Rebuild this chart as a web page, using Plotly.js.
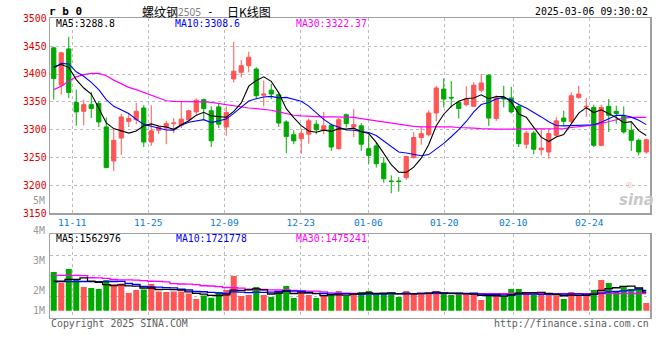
<!DOCTYPE html>
<html><head><meta charset="utf-8">
<script src="https://cdn.plot.ly/plotly-3.0.1.min.js"></script>
<style>html,body{margin:0;padding:0;background:#fff}#chart{width:660px;height:360px}</style>
</head><body><div id="chart"></div>
<script>
// ---------- data ----------
const dates = [
'2024-11-06','2024-11-07','2024-11-08','2024-11-11','2024-11-12','2024-11-13','2024-11-14','2024-11-15','2024-11-18','2024-11-19',
'2024-11-20','2024-11-21','2024-11-22','2024-11-25','2024-11-26','2024-11-27','2024-11-28','2024-11-29','2024-12-02','2024-12-03',
'2024-12-04','2024-12-05','2024-12-06','2024-12-09','2024-12-10','2024-12-11','2024-12-12','2024-12-13','2024-12-16','2024-12-17',
'2024-12-18','2024-12-19','2024-12-20','2024-12-23','2024-12-24','2024-12-25','2024-12-26','2024-12-27','2024-12-30','2024-12-31',
'2025-01-02','2025-01-03','2025-01-06','2025-01-07','2025-01-08','2025-01-09','2025-01-10','2025-01-13','2025-01-14','2025-01-15',
'2025-01-16','2025-01-17','2025-01-20','2025-01-21','2025-01-22','2025-01-23','2025-01-24','2025-01-27','2025-02-05','2025-02-06',
'2025-02-07','2025-02-10','2025-02-11','2025-02-12','2025-02-13','2025-02-14','2025-02-17','2025-02-18','2025-02-19','2025-02-20',
'2025-02-21','2025-02-24','2025-02-25','2025-02-26','2025-02-27','2025-02-28','2025-03-03','2025-03-04','2025-03-05','2025-03-06'];

const openP = [3447,3380,3445,3349,3333,3345,3347,3305,3244,3285,
 3315,3318,3339,3278,3299,3303,3311,3308,3318,3332,
 3354,3334,3341,3305,3391,3403,3415,3409,3362,3371,
 3363,3314,3291,3284,3292,3310,3300,3308,3266,3327,
 3305,3307,3266,3271,3240,3208,3208,3214,3250,3286,
 3291,3330,3373,3358,3349,3345,3342,3371,3398,3320,
 3358,3357,3342,3274,3294,3264,3260,3290,3321,3315,
 3358,3341,3340,3272,3342,3333,3324,3299,3281,3260];
const highP = [3449,3440,3467,3372,3354,3368,3351,3322,3301,3329,
 3329,3348,3344,3344,3308,3316,3321,3351,3336,3356,
 3356,3342,3348,3342,3458,3425,3440,3412,3388,3382,
 3367,3317,3299,3302,3320,3317,3332,3311,3321,3329,
 3337,3312,3290,3278,3251,3218,3215,3253,3296,3305,
 3335,3379,3392,3387,3352,3378,3385,3400,3399,3362,
 3379,3377,3345,3298,3298,3302,3302,3323,3334,3367,
 3379,3357,3345,3345,3355,3343,3342,3312,3284,3284];
const lowP = [3354,3363,3357,3307,3308,3321,3305,3232,3226,3255,
 3305,3310,3269,3271,3292,3274,3294,3303,3315,3328,
 3317,3269,3303,3289,3385,3394,3403,3355,3342,3355,
 3305,3258,3274,3257,3275,3292,3292,3262,3264,3304,
 3287,3262,3239,3232,3205,3186,3189,3210,3248,3273,
 3288,3315,3340,3340,3320,3342,3342,3367,3307,3316,
 3340,3329,3269,3266,3256,3254,3248,3287,3308,3312,
 3355,3323,3269,3270,3296,3311,3293,3262,3254,3257];
const closeP = [3392,3438,3367,3332,3345,3338,3314,3232,3281,3323,
 3320,3333,3278,3298,3305,3311,3312,3319,3334,3353,
 3338,3280,3310,3331,3405,3415,3430,3361,3364,3364,
 3312,3288,3280,3293,3316,3300,3307,3269,3318,3311,
 3309,3274,3254,3239,3212,3207,3207,3252,3286,3293,
 3330,3375,3355,3357,3338,3355,3380,3384,3321,3357,
 3355,3332,3275,3294,3265,3267,3293,3316,3315,3361,
 3364,3342,3272,3340,3326,3329,3296,3281,3260,3282];

const ma5 = [3413,3417,3412,3390,3374.8,3364,3339.2,3312.2,3302,3297.6,
 3294,3297.8,3307,3310.4,3306.8,3305,3300.8,3309,3316.2,3325.8,
 3331.2,3324.8,3323,3322.4,3332.8,3348.2,3378.2,3388.4,3395,3386.8,
 3366.2,3337.8,3321.6,3307.4,3297.8,3295.4,3299.2,3297,3302,3301,
 3302.8,3296.2,3293.2,3277.4,3257.6,3237.2,3223.8,3223.4,3232.8,3249,
 3273.6,3307.2,3327.8,3342,3351,3356,3357,3362.8,3355.6,3359.4,
 3359.4,3349.8,3328,3322.6,3304.2,3286.6,3278.8,3287,3291.2,3310.4,
 3329.8,3339.6,3330.8,3335.8,3328.8,3321.8,3312.6,3314.4,3298.4,3289.6];
const ma10 = [3411,3419,3418,3404,3396,3385,3372,3354,3342,3336.2,
 3329,3318.5,3309.6,3306.2,3302.2,3299.5,3299.3,3308,3313.3,3316.3,
 3318.1,3312.8,3316,3319.3,3329.3,3339.7,3351.5,3355.7,3358.7,3359.8,
 3357.2,3358,3355,3351.2,3342.3,3330.8,3318.5,3309.3,3304.7,3299.4,
 3299.1,3297.7,3295.1,3289.7,3279.3,3270,3260,3258.3,3255.1,3253.3,
 3255.4,3265.5,3275.6,3287.4,3300,3314.8,3332.1,3345.3,3348.8,3355.2,
 3357.7,3353.4,3345.4,3339.1,3331.8,3323,3314.3,3307.5,3306.9,3307.3,
 3308.2,3309.2,3308.9,3313.5,3319.6,3325.8,3326.1,3322.6,3317.1,3309.2];
const ma30 = [3372,3378,3387,3395,3399,3401,3401,3397,3389,3382,
 3376,3372,3367,3362,3357,3352,3351,3351,3351,3351,
 3350,3349,3347,3344,3342,3341,3339,3338,3337,3335,
 3332,3329,3326,3325,3324,3324,3323,3323,3323,3323,
 3322,3320,3318,3316,3313,3311,3309,3308,3306,3305,
 3305,3306,3306,3305,3304,3304,3303,3302,3301,3301,
 3301,3301,3301,3301,3301,3301,3301,3302,3302,3304,
 3306,3307,3308,3311,3315,3318,3321,3322,3322,3322];

// volume in millions of lots
const volM = [3.29,2.38,3.54,2.66,2.01,1.93,1.84,2.61,2.27,2.32,
 1.50,1.76,1.81,2.27,1.64,1.59,1.64,1.64,1.47,0.99,
 1.30,1.10,1.59,1.76,2.95,1.25,1.33,2.01,1.33,1.16,
 1.61,2.10,1.08,1.67,1.33,1.08,1.25,1.42,1.67,1.25,
 1.42,1.59,1.67,1.42,1.42,1.50,1.16,1.67,1.42,1.50,
 1.59,1.67,1.42,1.33,1.42,1.42,1.42,0.91,1.25,1.33,
 1.25,1.84,1.84,1.42,1.33,1.33,1.42,1.30,0.99,1.59,
 1.25,1.42,1.76,2.61,2.35,1.59,2.01,1.84,1.84,0.65];
const volMa5 = [2.52,2.52,2.66,2.66,2.78,2.50,2.40,2.21,2.13,2.19,
 2.11,2.09,1.93,1.93,1.80,1.81,1.79,1.76,1.60,1.47,
 1.41,1.30,1.29,1.35,1.74,1.73,1.78,1.86,1.77,1.42,
 1.49,1.64,1.46,1.52,1.56,1.45,1.28,1.35,1.35,1.33,
 1.40,1.47,1.52,1.47,1.50,1.52,1.43,1.43,1.43,1.45,
 1.47,1.57,1.52,1.50,1.49,1.45,1.40,1.30,1.28,1.27,
 1.23,1.32,1.50,1.54,1.54,1.55,1.47,1.36,1.27,1.33,
 1.31,1.31,1.40,1.73,1.88,1.95,2.06,2.08,1.93,1.59];
const volMa10 = [2.46,2.47,2.48,2.48,2.48,2.47,2.47,2.47,2.48,2.49,
 2.31,2.24,2.07,2.03,2.00,1.96,1.94,1.84,1.76,1.63,
 1.61,1.55,1.52,1.47,1.60,1.57,1.54,1.58,1.56,1.58,
 1.61,1.71,1.66,1.65,1.49,1.47,1.46,1.40,1.44,1.45,
 1.43,1.38,1.44,1.41,1.42,1.46,1.45,1.48,1.45,1.48,
 1.49,1.50,1.48,1.47,1.47,1.46,1.49,1.41,1.39,1.38,
 1.34,1.36,1.40,1.41,1.40,1.39,1.39,1.43,1.41,1.43,
 1.43,1.39,1.38,1.50,1.60,1.63,1.69,1.74,1.83,1.73];
const volMa30 = [3.00,3.00,3.00,3.00,2.98,2.80,2.78,2.75,2.65,2.62,
 2.61,2.60,2.55,2.50,2.49,2.45,2.30,2.27,2.26,2.22,
 2.12,2.10,2.05,1.97,1.95,1.92,1.84,1.81,1.80,1.77,
 1.76,1.76,1.72,1.68,1.67,1.66,1.60,1.52,1.49,1.48,
 1.47,1.46,1.45,1.45,1.45,1.45,1.45,1.45,1.45,1.45,
 1.45,1.45,1.45,1.45,1.44,1.44,1.44,1.44,1.44,1.44,
 1.44,1.44,1.44,1.44,1.44,1.44,1.44,1.44,1.44,1.44,
 1.44,1.44,1.44,1.45,1.45,1.45,1.45,1.46,1.46,1.46];

const priceTicks = [3150,3200,3250,3300,3350,3400,3450,3500];
const dateTickIndex = [3,13,23,33,42,52,61,71];
const volLabels = ['4M','3M','2M','1M'];

// ---------- styling / layout ----------
const MONO = 'DejaVu Sans Mono';
const RED = '#ff5555', GREEN = '#00a800';
const xIdx = dates.map((d, i) => i);
const dateTickText = dateTickIndex.map(i => dates[i].slice(5));
const gridX = [2.47, 12.6, 22.74, 32.93, 41.94, 52.07, 61.27, 71.4]; // grid/label positions on the index axis
const volColors = closeP.map((c, i) => c >= openP[i] ? RED : GREEN);

const W = 660, H = 360, L = 50, R = 10;
const px = x => (x - L) / (W - L - R);
const py = y => 1 - y / H;
function ann(text, x, y, color, size, xanchor, family, extra) {
  return Object.assign({text, x: px(x), y: py(y), xref: 'paper', yref: 'paper', xanchor: xanchor || 'left',
    yanchor: 'middle', showarrow: false, borderpad: 0,
    font: {family: family || MONO, size: size || 9.8, color: color || '#000'}}, extra || {});
}

const traces = [
  {type: 'candlestick', x: xIdx, open: openP, high: highP, low: lowP, close: closeP,
   xaxis: 'x', yaxis: 'y', hoverinfo: 'skip', whiskerwidth: 0, line: {width: 1},
   increasing: {line: {color: RED, width: 1}, fillcolor: RED},
   decreasing: {line: {color: GREEN, width: 1}, fillcolor: GREEN}},
  {type: 'scatter', mode: 'lines', x: xIdx, y: ma30, xaxis: 'x', yaxis: 'y', line: {color: '#ff00ff', width: 1.2}, hoverinfo: 'skip'},
  {type: 'scatter', mode: 'lines', x: xIdx, y: ma10, xaxis: 'x', yaxis: 'y', line: {color: '#0000ff', width: 1.1}, hoverinfo: 'skip'},
  {type: 'scatter', mode: 'lines', x: xIdx, y: ma5, xaxis: 'x', yaxis: 'y', line: {color: '#000000', width: 1.1}, hoverinfo: 'skip'},
  {type: 'bar', x: xIdx, y: volM, xaxis: 'x2', yaxis: 'y2', marker: {color: volColors, line: {width: 0}}, hoverinfo: 'skip'},
  {type: 'scatter', mode: 'lines', x: xIdx, y: volMa30, xaxis: 'x2', yaxis: 'y2', line: {color: '#ff00ff', width: 1.3, shape: 'hvh'}, hoverinfo: 'skip'},
  {type: 'scatter', mode: 'lines', x: xIdx, y: volMa10, xaxis: 'x2', yaxis: 'y2', line: {color: '#0000ff', width: 1.3, shape: 'hvh'}, hoverinfo: 'skip'},
  {type: 'scatter', mode: 'lines', x: xIdx, y: volMa5, xaxis: 'x2', yaxis: 'y2', line: {color: '#000000', width: 1.3, shape: 'hvh'}, hoverinfo: 'skip'}
];

const axisLine = {showline: true, mirror: true, linecolor: '#a0a0a0', linewidth: 1.5, zeroline: false,
  gridcolor: '#bdbdbd', griddash: 'dot', gridwidth: 1, ticks: ''};

const layout = {
  width: W, height: H, margin: {l: L, r: R, t: 0, b: 0}, paper_bgcolor: '#fff', plot_bgcolor: '#fff',
  showlegend: false, bargap: 0.2, boxgap: 0.2, hovermode: false,
  xaxis: Object.assign({}, axisLine, {domain: [0, 1], range: [-0.5, 79.5], anchor: 'y', type: 'linear',
    tickmode: 'array', tickvals: gridX, ticktext: dateTickText, showgrid: true,
    tickfont: {family: MONO, size: 9.5, color: '#0a7ad2'}, rangeslider: {visible: false}}),
  yaxis: Object.assign({}, axisLine, {domain: [py(213.3), py(18.3)], range: [3150, 3500], anchor: 'x',
    tickmode: 'array', tickvals: priceTicks, showgrid: true,
    tickfont: {family: MONO, size: 9.8, color: '#e00000'}}),
  xaxis2: Object.assign({}, axisLine, {domain: [0, 1], range: [-0.5, 79.5], anchor: 'y2', type: 'linear',
    tickmode: 'array', tickvals: gridX, showticklabels: false, showgrid: true}),
  yaxis2: Object.assign({}, axisLine, {domain: [py(317.7), py(234.3)], range: [-0.595, 6.49], anchor: 'x2',
    tickmode: 'array', tickvals: [1.18, 2.95, 4.72], showticklabels: false, showgrid: true}),
  annotations: [
    ann('r b 0', 48, 12, '#000', 11, 'left', MONO, {font: {family: MONO, size: 11, color: '#000', weight: 'bold'}}),
    ann('螺纹钢', 141, 11, '#000', 12, 'left', 'Noto Sans CJK SC'),
    ann('2505', 177, 11.5, '#808080', 10, 'left', 'Noto Sans'),
    ann('-', 210.5, 11, '#000', 11, 'center', MONO),
    ann('日K线图', 226, 11, '#000', 12, 'left', 'Noto Sans CJK SC'),
    ann('2025-03-06 09:30:02', 649, 12, '#000', 9.9, 'right'),
    ann('MA5:3288.8', 55, 23.7, '#000'),
    ann('MA10:3308.6', 174, 23.7, '#0000ff'),
    ann('MA30:3322.37', 295, 23.7, '#ff00ff'),
    ann('5M', 46, 200.7, '#999', 9.8, 'right'),
    ann(volLabels[0], 46, 230.7, '#999', 9.8, 'right'),
    ann(volLabels[1], 46, 260.7, '#999', 9.8, 'right'),
    ann(volLabels[2], 46, 290.7, '#999', 9.8, 'right'),
    ann(volLabels[3], 46, 310.7, '#999', 9.8, 'right'),
    ann('MA5:1562976', 55, 238.5, '#000'),
    ann('MA10:1721778', 175, 238.5, '#0000ff'),
    ann('MA30:1475241', 295, 238.5, '#ff00ff'),
    ann('Copyright 2025 SINA.COM', 49.5, 323.5, '#606060', 9.9, 'left'),
    ann('http://finance.sina.com.cn', 649.5, 323.5, '#606060', 9.9, 'right'),
    ann('sina', 636, 200, '#c8c8c8', 15, 'center', 'DejaVu Sans', {font: {family: 'DejaVu Sans', size: 15, color: '#c8c8c8', style: 'italic', weight: 'bold'}}),
    ann('◎', 629, 184, '#f0b0b0', 8, 'center', 'DejaVu Sans')
  ]
};

Plotly.newPlot('chart', traces, layout, {displayModeBar: false, staticPlot: true});
</script>
</body></html>
